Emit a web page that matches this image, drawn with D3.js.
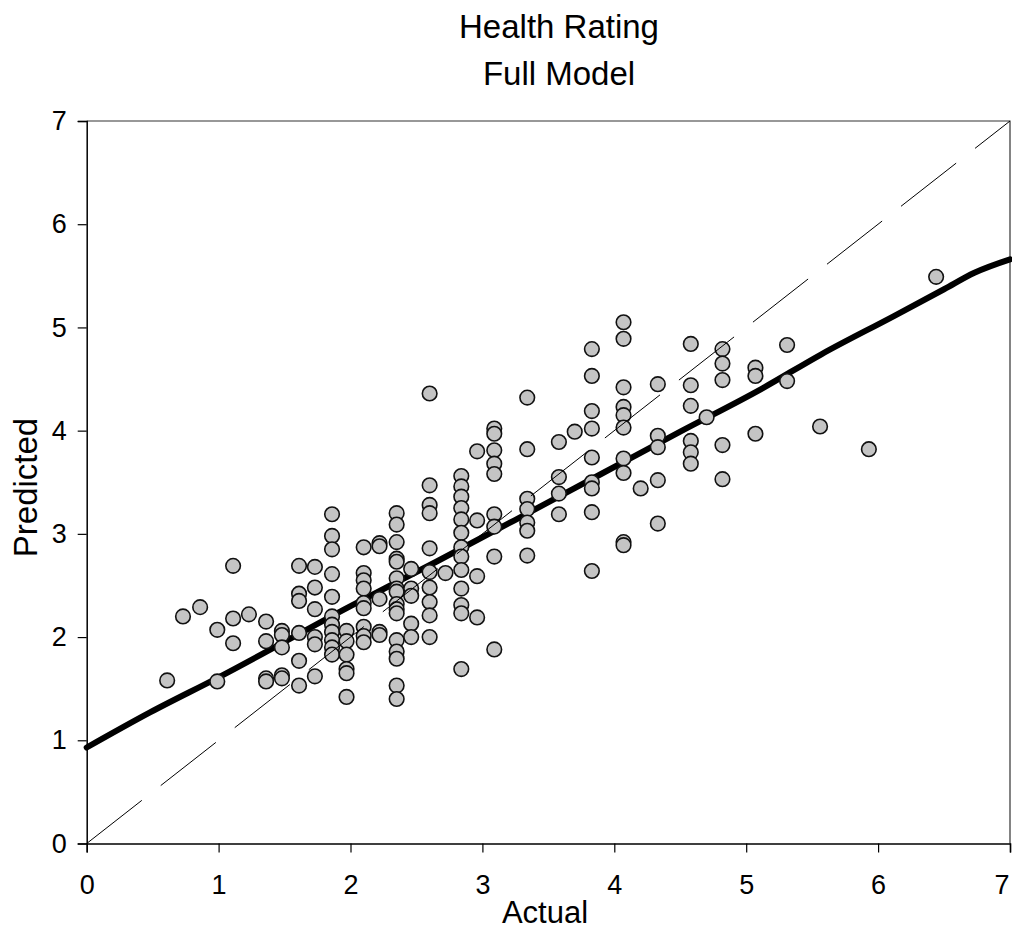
<!DOCTYPE html>
<html>
<head>
<meta charset="utf-8">
<script src="https://cdn.jsdelivr.net/npm/d3@7"></script>
<style>
  html, body { margin: 0; padding: 0; background: #fff; }
  svg { display: block; }
  text { font-family: "Liberation Sans", Arial, Helvetica, sans-serif; fill: #000; }
</style>
</head>
<body>
<svg id="chart" width="1012" height="931"></svg>
<script>
// ---- data ----
const titleLines = ["Health Rating", "Full Model"];
const xLabel = "Actual";
const yLabel = "Predicted";
const xTicks = [0, 1, 2, 3, 4, 5, 6, 7];
const yTicks = [0, 1, 2, 3, 4, 5, 6, 7];

// actual values (columns) and predicted values in each column
const actualCols = [0.61, 0.73, 0.86, 0.99, 1.11, 1.23, 1.36, 1.48, 1.61, 1.73,
  1.86, 1.97, 2.10, 2.22, 2.35, 2.46, 2.60, 2.72, 2.84, 2.96,
  3.09, 3.34, 3.58, 3.70, 3.83, 4.07, 4.20, 4.33, 4.58, 4.70,
  4.82, 5.07, 5.31, 5.56, 5.93, 6.44];
const predictedCols = [
  [1.58],
  [2.20],
  [2.29],
  [2.07, 1.57],
  [2.69, 2.18, 1.94],
  [2.22],
  [2.15, 1.96, 1.60, 1.57],
  [2.06, 2.02, 1.90, 1.63, 1.60],
  [2.69, 2.42, 2.35, 2.04, 1.77, 1.53],
  [2.68, 2.48, 2.27, 2.00, 1.93, 1.62],
  [3.19, 2.98, 2.85, 2.61, 2.39, 2.20, 2.12, 2.05, 1.97, 1.90, 1.83],
  [2.06, 1.96, 1.83, 1.69, 1.65, 1.42],
  [2.87, 2.62, 2.55, 2.47, 2.33, 2.28, 2.10, 2.01, 1.95],
  [2.91, 2.88, 2.37, 2.05, 2.02],
  [3.20, 3.09, 2.92, 2.76, 2.73, 2.57, 2.47, 2.44, 2.32, 2.27, 2.23, 1.97, 1.86, 1.79, 1.53, 1.40],
  [2.66, 2.47, 2.40, 2.13, 2.00],
  [4.36, 3.47, 3.28, 3.20, 2.86, 2.63, 2.48, 2.34, 2.21, 2.00],
  [2.62],
  [3.56, 3.46, 3.36, 3.25, 3.14, 3.01, 2.87, 2.78, 2.65, 2.47, 2.31, 2.23, 1.69],
  [3.80, 3.13, 2.59, 2.19],
  [4.02, 3.97, 3.81, 3.68, 3.58, 3.19, 3.07, 2.78, 1.88],
  [4.32, 3.82, 3.34, 3.24, 3.11, 3.03, 2.79],
  [3.89, 3.55, 3.39, 3.19],
  [3.99],
  [4.79, 4.53, 4.19, 4.02, 3.74, 3.50, 3.44, 3.21, 2.64],
  [5.05, 4.89, 4.42, 4.23, 4.15, 4.03, 3.73, 3.59, 2.92, 2.89],
  [3.44],
  [4.45, 3.95, 3.84, 3.52, 3.10],
  [4.84, 4.44, 4.24, 3.90, 3.79, 3.68],
  [4.13],
  [4.79, 4.65, 4.49, 3.86, 3.53],
  [4.61, 4.53, 3.97],
  [4.83, 4.48],
  [4.04],
  [3.82],
  [5.49]
];

// smoothed fit (thick line)
const fitX = [0, 0.48, 1.0, 2.0, 2.65, 3.3, 3.9, 4.5, 5.11, 5.57, 6.12, 6.5, 6.73, 7.0];
const fitY = [0.93, 1.27, 1.61, 2.30, 2.73, 3.17, 3.58, 3.99, 4.40, 4.74, 5.11, 5.37, 5.53, 5.66];

// identity reference line (dashed)
const refX = [0, 7];
const refY = [0, 7];

// ---- build ----
const points = [];
actualCols.forEach((ax, i) => predictedCols[i].forEach(p => points.push({ x: ax, y: p })));

const svg = d3.select("#chart");
const plot = { left: 86.7, right: 1010, top: 121, bottom: 843.5 };

const x = d3.scaleLinear().domain([0, 7]).range([plot.left, plot.right]);
const y = d3.scaleLinear().domain([0, 7]).range([plot.bottom, plot.top]);

// frame (top and right)
svg.append("path")
  .attr("d", `M${plot.left},${plot.top}H${plot.right}V${plot.bottom}`)
  .attr("fill", "none").attr("stroke", "#333").attr("stroke-width", 1.2);

// axes
const xAxis = svg.append("g")
  .attr("transform", `translate(0,${plot.bottom})`)
  .call(d3.axisBottom(x).tickValues(xTicks).tickSize(9).tickPadding(22).tickFormat(d3.format("d")));
const yAxis = svg.append("g")
  .attr("transform", `translate(${plot.left},0)`)
  .call(d3.axisLeft(y).tickValues(yTicks).tickSize(9).tickPadding(11).tickFormat(d3.format("d")));

[xAxis, yAxis].forEach(g => {
  g.select(".domain").attr("stroke", "#000").attr("stroke-width", 1.5);
  g.selectAll(".tick line").attr("stroke", "#000").attr("stroke-width", 1.2);
  g.selectAll(".tick text")
    .attr("font-family", '"Liberation Sans", Arial, sans-serif')
    .attr("font-size", 27).attr("fill", "#000");
});
// keep the last x label inside the picture
xAxis.selectAll(".tick text").filter(d => d === 7).attr("text-anchor", "end").attr("dx", -1);

// thick fit line
const line = d3.line().x(d => x(d[0])).y(d => y(d[1])).curve(d3.curveMonotoneX);
svg.append("path")
  .datum(fitX.map((v, i) => [v, fitY[i]]))
  .attr("d", line)
  .attr("fill", "none").attr("stroke", "#000").attr("stroke-width", 6)
  .attr("stroke-linecap", "round");

// points
svg.append("g").selectAll("circle")
  .data(points).join("circle")
  .attr("cx", d => x(d.x)).attr("cy", d => y(d.y)).attr("r", 7.3)
  .attr("fill", "#c4c4c4").attr("stroke", "#111").attr("stroke-width", 1.6);

// dashed identity line
svg.append("path")
  .datum(refX.map((v, i) => [v, refY[i]]))
  .attr("d", d3.line().x(d => x(d[0])).y(d => y(d[1])))
  .attr("fill", "none").attr("stroke", "#000").attr("stroke-width", 1)
  .attr("stroke-dasharray", "70,24");

// title
svg.append("text").attr("x", 559).attr("y", 38).attr("text-anchor", "middle")
  .attr("font-size", 33).text(titleLines[0]);
svg.append("text").attr("x", 559).attr("y", 85).attr("text-anchor", "middle")
  .attr("font-size", 33).text(titleLines[1]);

// axis titles
svg.append("text").attr("x", 545).attr("y", 923).attr("text-anchor", "middle")
  .attr("font-size", 31).text(xLabel);
svg.append("text")
  .attr("transform", "translate(36.5,487.5) rotate(-90)")
  .attr("text-anchor", "middle").attr("font-size", 33).text(yLabel);
</script>
</body>
</html>
